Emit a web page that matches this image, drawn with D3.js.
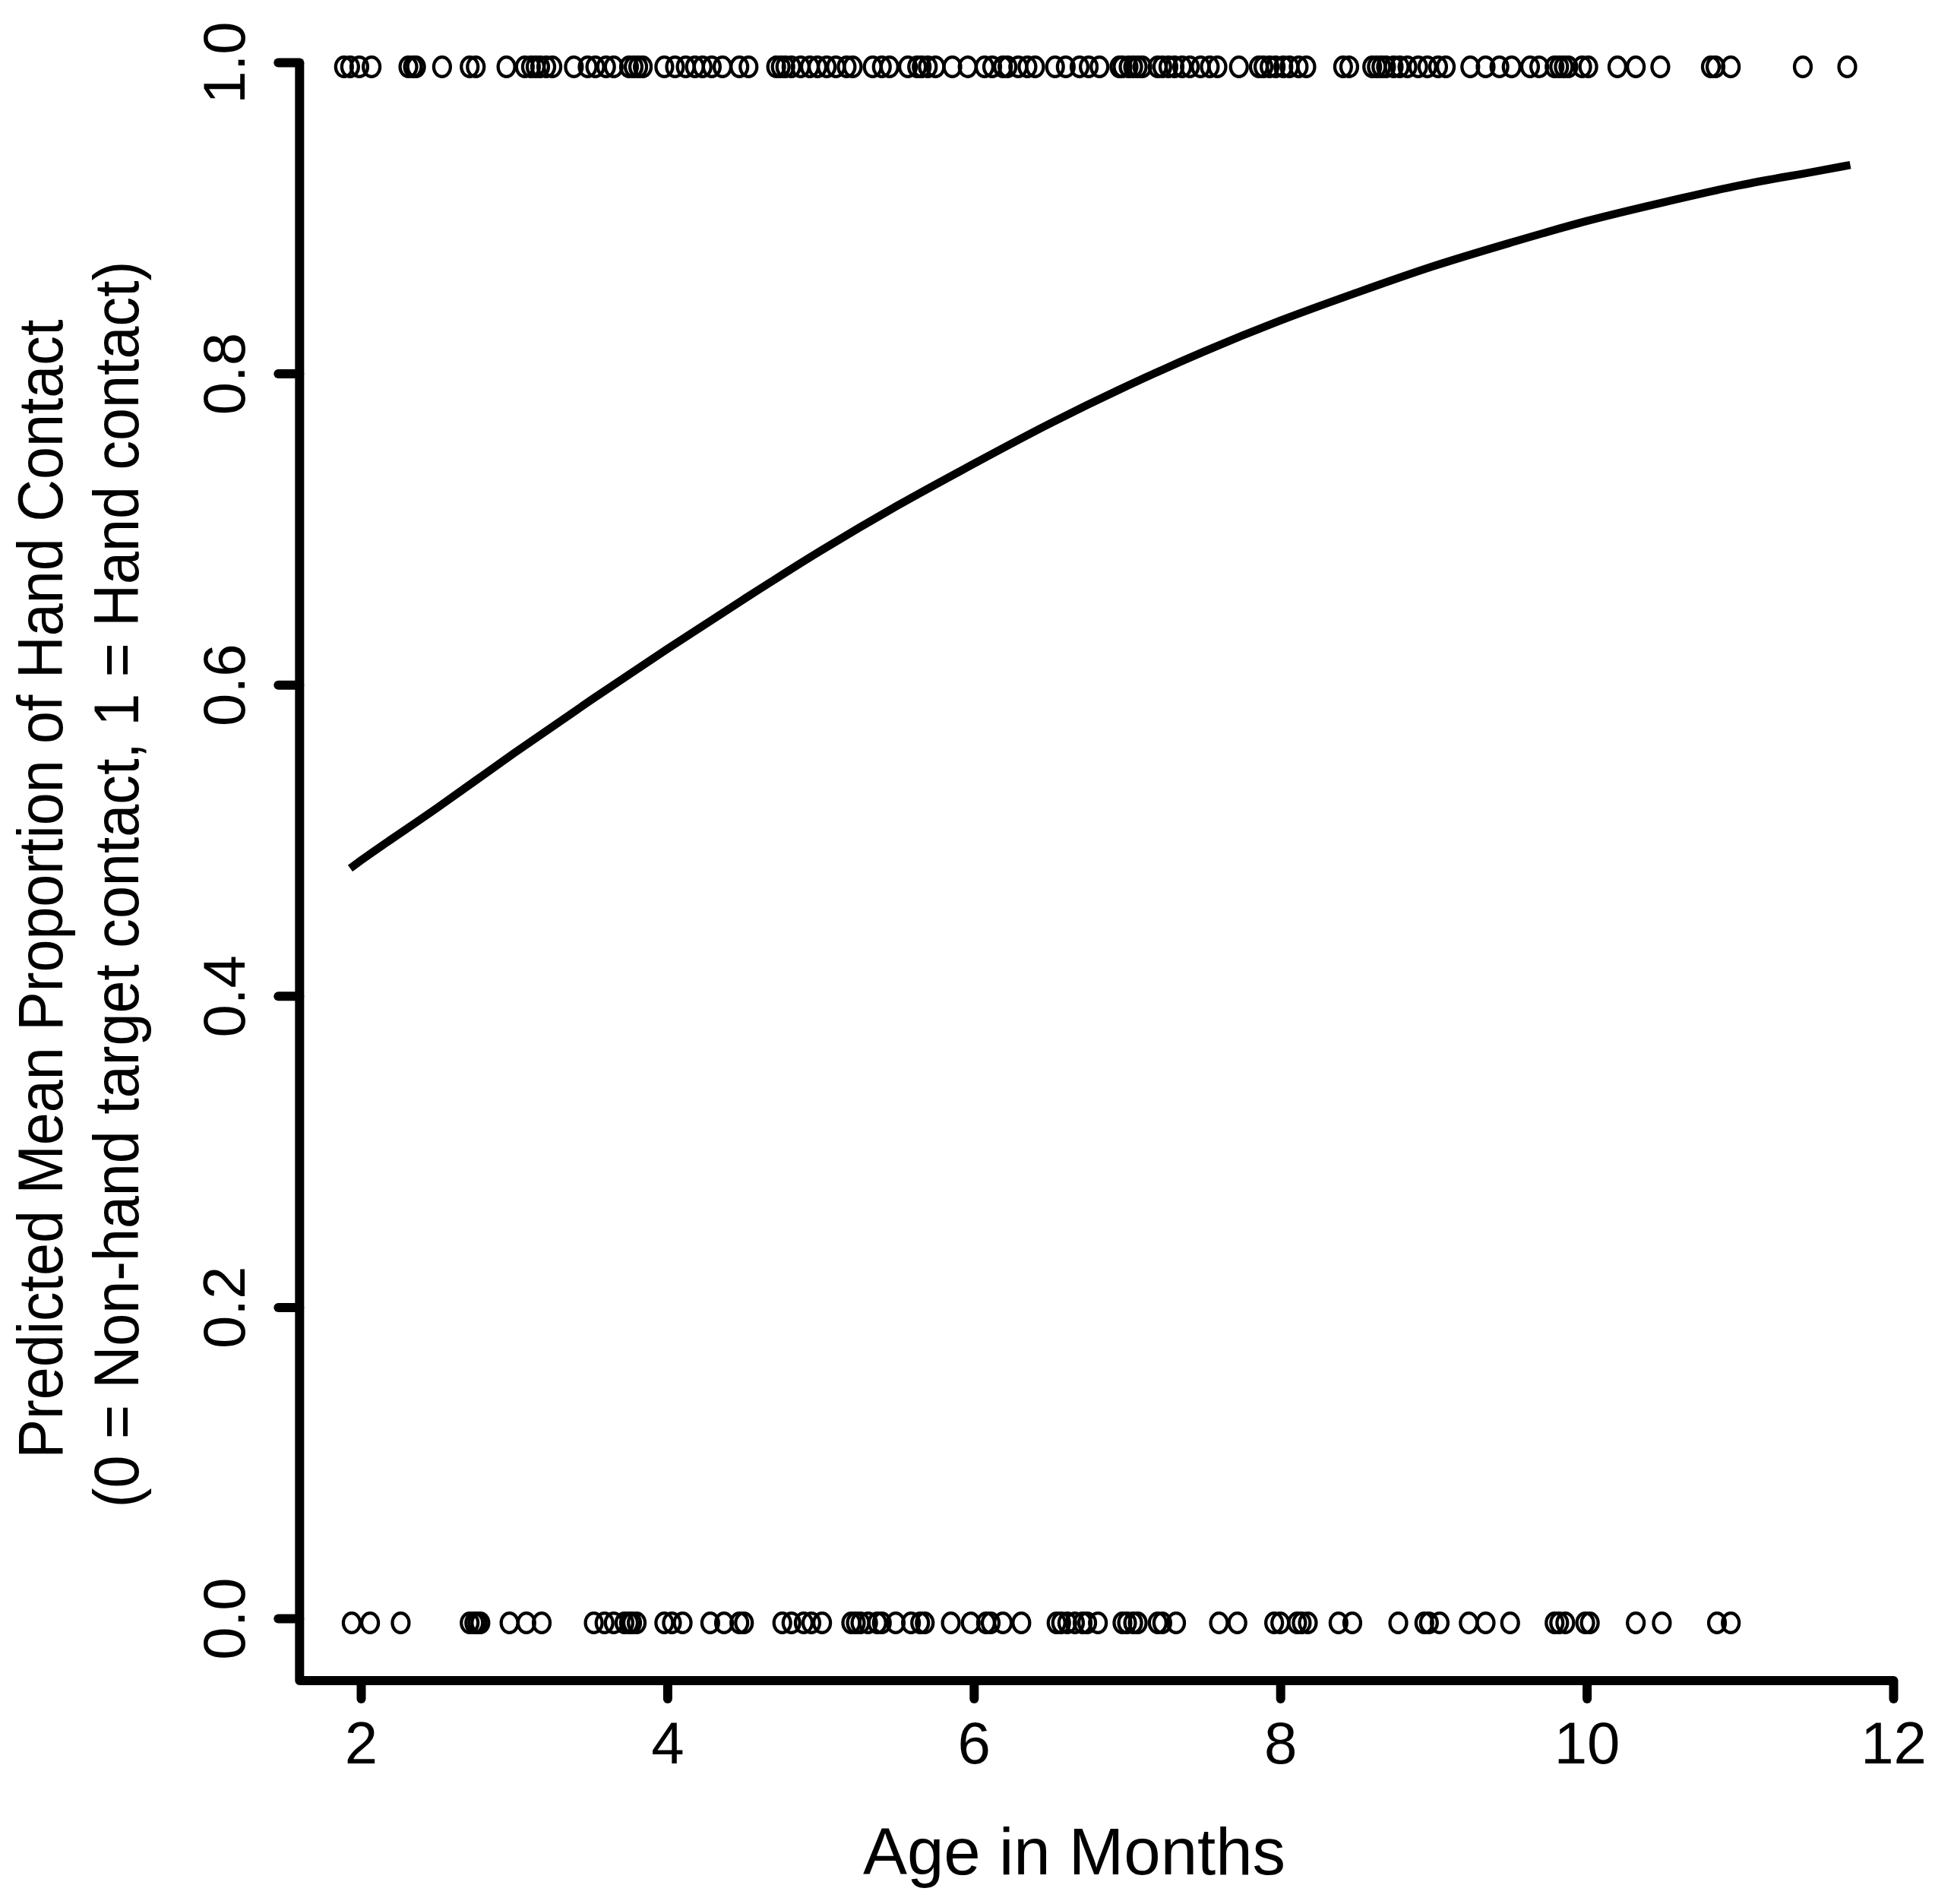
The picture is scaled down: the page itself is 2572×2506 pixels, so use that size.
<!DOCTYPE html>
<html>
<head>
<meta charset="utf-8">
<script src="https://cdn.jsdelivr.net/npm/d3@7"></script>
<style>
  body { margin: 0; background: #fff; }
  svg { display: block; }
</style>
</head>
<body>
<div id="chart"></div>
<script>
// ages (months) of trials coded 1 = hand contact
const handAges = [
  1.89, 1.93, 1.99, 2.07, 2.31, 2.34, 2.36, 2.53, 2.71, 2.75, 2.95, 3.07, 3.11, 3.14,
  3.17, 3.21, 3.25, 3.39, 3.48, 3.53, 3.60, 3.65, 3.75, 3.78, 3.81, 3.84, 3.98, 4.05,
  4.12, 4.18, 4.23, 4.29, 4.36, 4.47, 4.53, 4.71, 4.74, 4.77, 4.81, 4.87, 4.93, 4.98,
  5.04, 5.10, 5.17, 5.21, 5.34, 5.40, 5.45, 5.57, 5.63, 5.66, 5.70, 5.75, 5.86, 5.96,
  6.07, 6.12, 6.19, 6.22, 6.29, 6.35, 6.40, 6.53, 6.60, 6.69, 6.75, 6.82, 6.95, 6.97,
  7.01, 7.04, 7.07, 7.10, 7.20, 7.23, 7.27, 7.31, 7.36, 7.41, 7.48, 7.54, 7.59, 7.73,
  7.86, 7.89, 7.93, 7.97, 8.02, 8.06, 8.12, 8.17, 8.41, 8.45, 8.60, 8.63, 8.66, 8.69,
  8.74, 8.78, 8.83, 8.90, 8.96, 9.03, 9.08, 9.24, 9.34, 9.43, 9.51, 9.63, 9.69, 9.79,
  9.82, 9.85, 9.88, 9.97, 10.01, 10.20, 10.32, 10.48, 10.81, 10.84, 10.94, 11.41, 11.70
];

// ages (months) of trials coded 0 = non-hand target contact
const nonHandAges = [
  1.94, 2.06, 2.26, 2.71, 2.74, 2.76, 2.78, 2.97, 3.08, 3.18, 3.52, 3.59, 3.65, 3.72,
  3.75, 3.77, 3.80, 3.98, 4.03, 4.10, 4.28, 4.37, 4.47, 4.50, 4.75, 4.81, 4.89, 4.94,
  5.01, 5.20, 5.23, 5.26, 5.31, 5.37, 5.40, 5.49, 5.59, 5.65, 5.68, 5.85, 5.98, 6.08,
  6.11, 6.19, 6.31, 6.54, 6.57, 6.61, 6.66, 6.71, 6.74, 6.81, 6.97, 7.00, 7.04, 7.07,
  7.20, 7.23, 7.32, 7.60, 7.72, 7.96, 8.00, 8.11, 8.14, 8.18, 8.38, 8.47, 8.77, 8.94,
  8.97, 9.04, 9.23, 9.34, 9.50, 9.79, 9.82, 9.86, 9.99, 10.02, 10.32, 10.49, 10.85, 10.94
];

// predicted curve
const curveAge  = [1.93, 2.0, 2.5, 3.0, 3.5, 4.0, 4.5, 5.0, 5.5, 6.0, 6.5, 7.0,
                   7.5, 8.0, 8.5, 9.0, 9.5, 10.0, 10.5, 11.0, 11.5, 11.72];
const curveProb = [0.482, 0.487, 0.521, 0.556, 0.590, 0.623, 0.655, 0.686, 0.715, 0.742, 0.768, 0.792,
                   0.814, 0.834, 0.852, 0.869, 0.884, 0.898, 0.910, 0.921, 0.930, 0.934];

const xTicks = [2, 4, 6, 8, 10, 12];
const yTicks = [0, 0.2, 0.4, 0.6, 0.8, 1.0];

const xTitle = "Age in Months";
const yTitle1 = "Predicted Mean Proportion of Hand Contact";
const yTitle2 = "(0 = Non-hand target contact, 1 = Hand contact)";

const width = 2572;
const height = 2506;
const font = "'Liberation Sans', Arial, Helvetica, sans-serif";
const lw = 12;

const svg = d3.select("#chart")
  .append("svg")
  .attr("width", width)
  .attr("height", height);

const x = d3.scaleLinear().domain([2, 12]).range([475, 2492]);
const y = d3.scaleLinear().domain([0, 1]).range([2130, 82]);

// plot region edges (R style usr limits)
const xMin = 1.6;
const yMin = -0.04;

// L-shaped box
svg.append("path")
  .attr("d", d3.line()([
    [x(xMin), y(1)],
    [x(xMin), y(yMin)],
    [x(12), y(yMin)]
  ]))
  .attr("fill", "none")
  .attr("stroke", "#000")
  .attr("stroke-width", lw)
  .attr("stroke-linejoin", "round");

// x axis
const xAxis = svg.append("g")
  .attr("transform", `translate(0,${y(yMin)})`)
  .call(d3.axisBottom(x).tickValues(xTicks).tickSize(24).tickPadding(30).tickFormat(d3.format("d")));
xAxis.select(".domain").remove();
xAxis.selectAll("line").attr("stroke-width", lw).attr("stroke-linecap", "round");
xAxis.selectAll("text")
  .attr("fill", "#000")
  .style("font-family", font)
  .style("font-size", "78px");

// y axis, labels rotated as in R (las = 0)
const yAxis = svg.append("g")
  .attr("transform", `translate(${x(xMin)},0)`)
  .call(d3.axisLeft(y).tickValues(yTicks).tickSize(28).tickFormat(d3.format(".1f")));
yAxis.select(".domain").remove();
yAxis.selectAll("line").attr("stroke-width", lw).attr("stroke-linecap", "round");
yAxis.selectAll("text")
  .attr("transform", "rotate(-90)")
  .attr("x", 0)
  .attr("y", -72)
  .attr("dy", 0)
  .attr("text-anchor", "middle")
  .attr("fill", "#000")
  .style("font-family", font)
  .style("font-size", "78px");

// raw observations
const pts = handAges.map(a => ({ age: a, v: 1 }))
  .concat(nonHandAges.map(a => ({ age: a, v: 0 })));

svg.append("g")
  .selectAll("ellipse")
  .data(pts)
  .join("ellipse")
  .attr("cx", d => x(d.age))
  .attr("cy", d => y(d.v) + 6)
  .attr("rx", 11)
  .attr("ry", 12.8)
  .attr("fill", "none")
  .attr("stroke", "#000")
  .attr("stroke-width", 4.2);

// fitted curve
const line = d3.line()
  .x((d, i) => x(curveAge[i]))
  .y(d => y(d))
  .curve(d3.curveMonotoneX);

svg.append("path")
  .datum(curveProb)
  .attr("d", line)
  .attr("fill", "none")
  .attr("stroke", "#000")
  .attr("stroke-width", 10.5)
  .attr("stroke-linecap", "butt");

// axis titles
svg.append("text")
  .attr("transform", "translate(1414,2467)")
  .attr("text-anchor", "middle")
  .style("font-family", font)
  .style("font-size", "87px")
  .text(xTitle);

svg.append("text")
  .attr("transform", "translate(82,1170) rotate(-90) scale(0.92,1)")
  .attr("text-anchor", "middle")
  .style("font-family", font)
  .style("font-size", "84px")
  .text(yTitle1);

svg.append("text")
  .attr("transform", "translate(182,1164) rotate(-90) scale(0.92,1)")
  .attr("text-anchor", "middle")
  .style("font-family", font)
  .style("font-size", "84px")
  .text(yTitle2);
</script>
</body>
</html>
